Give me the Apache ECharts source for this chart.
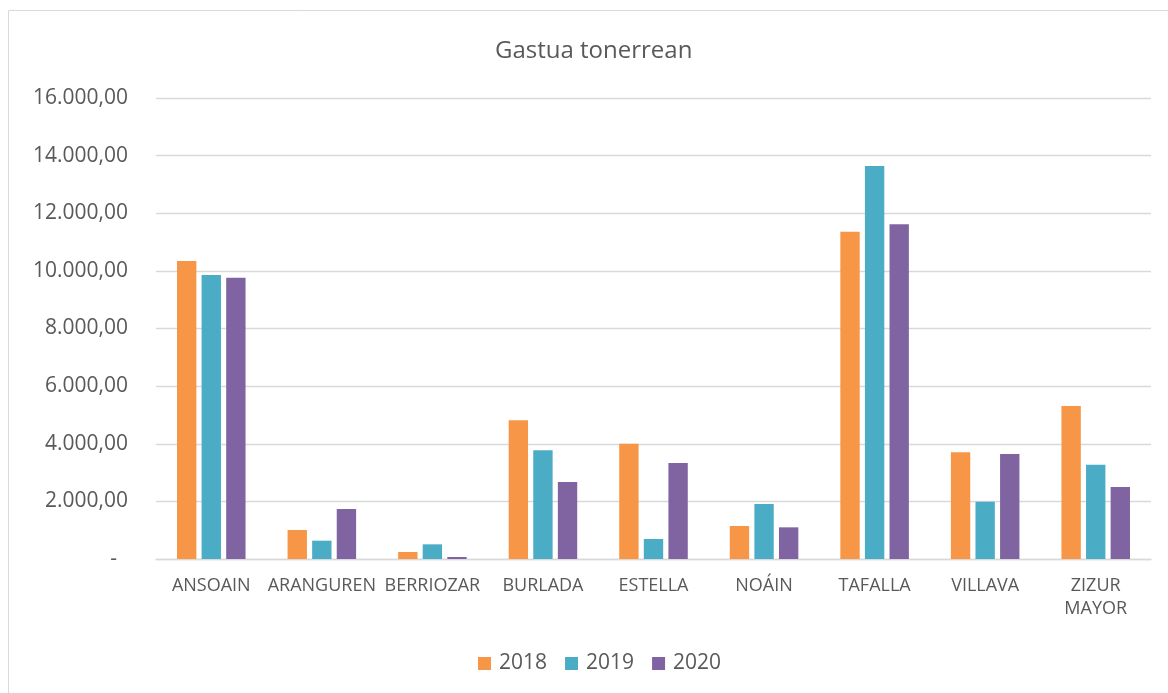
<!DOCTYPE html>
<html>
<head>
<meta charset="utf-8">
<script src="https://cdn.jsdelivr.net/npm/echarts@6/dist/echarts.min.js"></script>
<style>
html,body{margin:0;padding:0;background:#fff;}
#chart{width:1168px;height:693px;}
</style>
</head>
<body>
<div id="chart"></div>
<script>
const categories = ['ANSOAIN','ARANGUREN','BERRIOZAR','BURLADA','ESTELLA','NOÁIN','TAFALLA','VILLAVA','ZIZUR MAYOR'];
const seriesNames = ['2018','2019','2020'];
const values2018 = [10340, 1006, 243, 4813, 4003, 1145, 11360, 3702, 5310];
const values2019 = [9857, 636, 509, 3771, 694, 1909, 13640, 1990, 3274];
const values2020 = [9764, 1735, 69, 2672, 3332, 1099, 11615, 3644, 2499];
const colors = ['#F79646','#4BACC6','#8064A2'];
const titleText = 'Gastua tonerrean';

const FONT = 'Open Sans';
const TXT = '#595959';

function fmt(v){
  if (v === 0) return '-  ';
  const s = Math.round(v).toString().replace(/\B(?=(\d{3})+(?!\d))/g, '.');
  return s + ',00';
}

const chart = echarts.init(document.getElementById('chart'), null, {renderer:'canvas'});
const allValues = [values2018, values2019, values2020];
chart.setOption({
  animation:false,
  backgroundColor:'#fff',
  title:{
    text:titleText,
    left:495,
    top:39,
    padding:0,
    textStyle:{fontFamily:FONT,fontSize:24,fontWeight:'normal',color:TXT}
  },
  graphic:[{
    type:'rect',
    shape:{x:8.5,y:10.5,width:1200,height:700},
    style:{fill:'none',stroke:'#d9d9d9',lineWidth:1},
    silent:true, z:-1
  }],
  grid:{left:156,right:17,top:98,bottom:134,containLabel:false},
  legend:{
    data:seriesNames,
    left:478,
    top:653,
    padding:0,
    itemWidth:13,
    itemHeight:13,
    itemGap:18,
    icon:'rect',
    textStyle:{fontFamily:FONT,fontSize:21,color:TXT,padding:[0,0,0,3]}
  },
  xAxis:{
    type:'category',
    data:categories,
    axisLine:{lineStyle:{color:'#d9d9d9',width:1.3}},
    axisTick:{show:false},
    axisLabel:{
      fontFamily:FONT,fontSize:18,color:TXT,margin:15,lineHeight:23,interval:0,
      formatter:v=>v.replace(' ','\n')
    }
  },
  yAxis:{
    type:'value',
    min:0,max:16000,interval:2000,
    axisLine:{show:false},
    axisTick:{show:false},
    splitLine:{lineStyle:{color:'#d9d9d9',width:1.3}},
    axisLabel:{fontFamily:FONT,fontSize:21,color:TXT,margin:28,formatter:fmt}
  },
  series: seriesNames.map((n,i)=>({
    name:n,
    type:'bar',
    data:allValues[i],
    barGap:'27%',
    barCategoryGap:'38%',
    itemStyle:{color:colors[i]}
  }))
});
</script>
</body>
</html>
